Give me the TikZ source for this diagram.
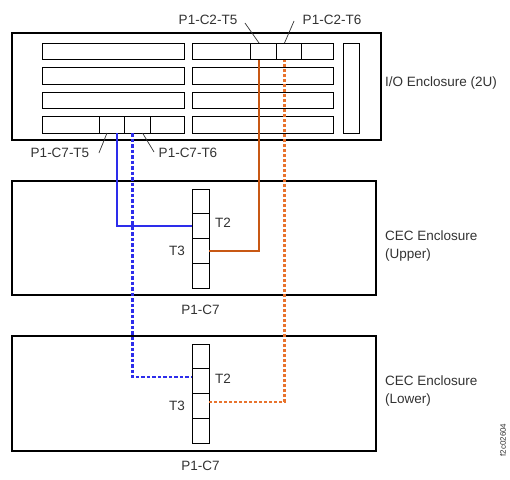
\documentclass[tikz,border=0pt]{standalone}
\usepackage{fontspec}
\setmainfont{Liberation Sans}
\usetikzlibrary{positioning}
\definecolor{txtgray}{RGB}{50,50,50}
\definecolor{cblue}{RGB}{45,45,235}
\definecolor{corange}{RGB}{200,88,20}
\definecolor{corangel}{RGB}{232,115,45}
\tikzstyle{encl} = [draw, line width=2.4pt, inner sep=0, outer sep=0]
\tikzstyle{slot} = [draw, line width=1pt]
\tikzstyle{port} = [draw, line width=1pt, minimum width=25.5pt, minimum height=16.5pt, inner sep=0, outer sep=0]
\tikzstyle{cell} = [draw, line width=1pt, minimum width=17pt, minimum height=24.75pt, inner sep=0, outer sep=0]
\tikzstyle{lbl} = [text=txtgray, font=\fontsize{13.5}{18}\selectfont, inner sep=0]
\tikzstyle{leader} = [draw=txtgray, line width=0.7pt]
\tikzstyle{cable} = [line width=1.9pt]
\tikzstyle{dashcable} = [line width=2.1pt, dash pattern=on 3.5pt off 2pt]

\begin{document}
\begin{tikzpicture}[x=1pt,y=-1pt]
\useasboundingbox (0,0) rectangle (510,479);
% enclosures
\node[encl, minimum width=369pt, minimum height=107pt] (io) at (196.5,86.5) {};
\node[encl, minimum width=364pt, minimum height=114pt] (cecup) at (194,238) {};
\node[encl, minimum width=364pt, minimum height=115pt] (ceclo) at (194,393.5) {};
% I/O slots
\foreach \i in {0,1,2,3}{
  \draw[slot] (42,43+24.5*\i) rectangle (184,59.5+24.5*\i);
  \draw[slot] (192,43+24.5*\i) rectangle (333,59.5+24.5*\i);
}
\draw[slot] (343,43) rectangle (359,133);
% I/O ports
\node[port] (c2t5) at (263.5,51.25) {};
\node[port, right=0pt of c2t5] (c2t6) {};
\node[port] (c7t5) at (112,124.75) {};
\node[port, right=0pt of c7t5] (c7t6) {};
% CEC ports
\node[cell] (up1) at (200.5,201.4) {};
\node[cell, below=0pt of up1] (up2) {};
\node[cell, below=0pt of up2] (up3) {};
\node[cell, below=0pt of up3] (up4) {};
\node[cell] (lo1) at (200.5,356.4) {};
\node[cell, below=0pt of lo1] (lo2) {};
\node[cell, below=0pt of lo2] (lo3) {};
\node[cell, below=0pt of lo3] (lo4) {};
% port labels
\node[lbl] (l25) at (208,20) {P1-C2-T5};
\node[lbl] (l26) at (332,20) {P1-C2-T6};
\node[lbl] (l75) at (60,153) {P1-C7-T5};
\node[lbl] (l76) at (188,153) {P1-C7-T6};
\draw[leader] ([xshift=7.5pt,yshift=-3pt]l25.east) -- ([xshift=-4.5pt]c2t5.north);
\draw[leader] ([xshift=-8.5pt,yshift=-1pt]l26.west) -- ([xshift=-4.5pt]c2t6.north);
\draw[leader] ([xshift=9.5pt]l75.east) -- ([xshift=-5pt]c7t5.south);
\draw[leader] ([xshift=-4.5pt,yshift=1pt]l76.west) -- ([xshift=5pt]c7t6.south);
\node[lbl, right=6pt of up2, yshift=3pt] (t2u) {T2};
\node[lbl, left=7pt of up3] (t3u) {T3};
\node[lbl, right=6pt of lo2, yshift=2pt] (t2l) {T2};
\node[lbl, left=7pt of lo3] (t3l) {T3};
\node[lbl, below=17pt of up4] (c7u) {P1-C7};
\node[lbl, below=18pt of lo4] (c7l) {P1-C7};
% enclosure labels
\node[lbl, anchor=west] (iolbl) at (385,83) {I/O Enclosure (2U)};
\node[lbl, anchor=west, align=left] (uplbl) at (385,246) {CEC Enclosure\\(Upper)};
\node[lbl, anchor=west, align=left] (lolbl) at (385,391) {CEC Enclosure\\(Lower)};
\node[text=txtgray, font=\fontsize{8}{9}\selectfont, rotate=90, inner sep=0] (fig) at (503,440) {f2c02604};
% cables
\draw[cable, cblue] ([xshift=5pt]c7t5.south) |- (up2.west);
\draw[dashcable, cblue] ([xshift=-5pt]c7t6.south) |- ([yshift=4pt]lo2.west);
\draw[cable, corange] (up3.east) -| ([xshift=-4.5pt]c2t5.south);
\draw[dashcable, corangel, dash pattern=on 3pt off 2pt] ([yshift=4pt]lo3.east) -| ([xshift=-4.5pt]c2t6.south);
\end{tikzpicture}
\end{document}
